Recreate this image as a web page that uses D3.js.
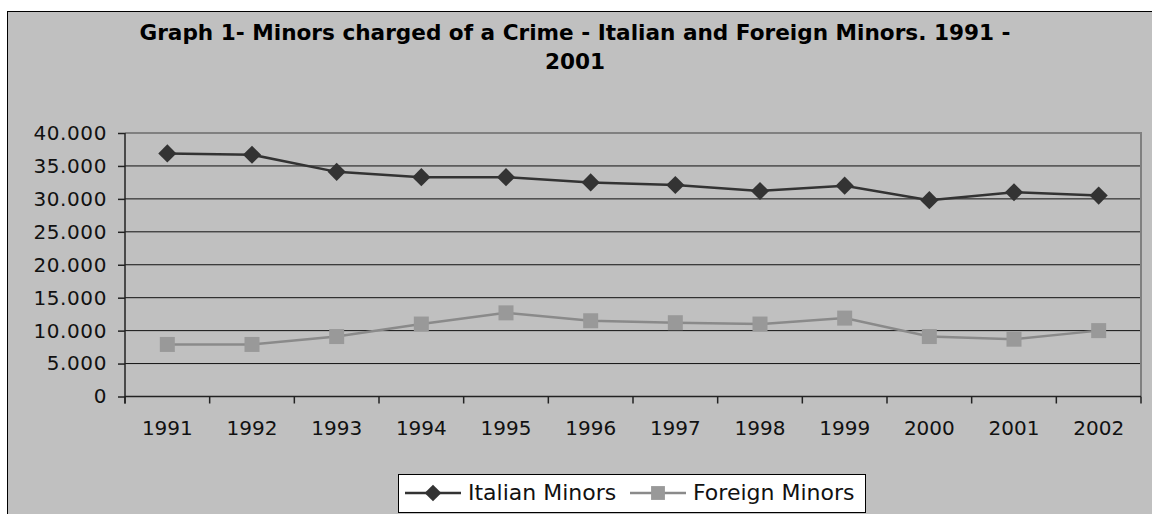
<!DOCTYPE html>
<html>
<head>
<meta charset="utf-8">
<script src="https://cdn.jsdelivr.net/npm/d3@7"></script>
<style>
  body { margin: 0; background: #fff; }
  text { font-family: "DejaVu Sans", Verdana, sans-serif; }
</style>
</head>
<body>
<div id="chart"></div>
<script>
const years = ["1991", "1992", "1993", "1994", "1995", "1996", "1997", "1998", "1999", "2000", "2001", "2002"];
const italianMinors = [36900, 36700, 34100, 33300, 33300, 32500, 32100, 31200, 32000, 29800, 31000, 30500];
const foreignMinors = [7900, 7900, 9100, 11000, 12700, 11500, 11200, 11000, 11900, 9100, 8700, 10000];
const yTicks = [0, 5000, 10000, 15000, 20000, 25000, 30000, 35000, 40000];
const titleLines = ["Graph 1- Minors charged of a Crime - Italian and Foreign Minors. 1991 -", "2001"];

const width = 1152, height = 514;
const plot = { left: 125, right: 1141, top: 133, bottom: 396.5 };

const svg = d3.select("#chart")
  .append("svg")
  .attr("width", width)
  .attr("height", height);

// chart area background and border
svg.append("rect")
  .attr("x", 7.5)
  .attr("y", 11.5)
  .attr("width", width)
  .attr("height", height)
  .style("fill", "#c0c0c0")
  .style("stroke", "#000")
  .style("stroke-width", 1);

// title
svg.append("text")
  .attr("text-anchor", "middle")
  .style("font-size", "21.6px")
  .style("font-weight", "bold")
  .style("fill", "#000")
  .selectAll("tspan")
  .data(titleLines)
  .join("tspan")
  .attr("x", 575)
  .attr("y", (d, i) => 40 + i * 29)
  .text(d => d);

const x = d3.scaleBand()
  .domain(years)
  .range([plot.left, plot.right]);

const y = d3.scaleLinear()
  .domain([0, 40000])
  .range([plot.bottom, plot.top]);

// gridlines
svg.append("g")
  .selectAll("line")
  .data(yTicks.filter(d => d > 0 && d < 40000))
  .join("line")
  .attr("x1", plot.left)
  .attr("x2", plot.right)
  .attr("y1", d => y(d))
  .attr("y2", d => y(d))
  .style("stroke", "#111")
  .style("stroke-width", 1);

// top and right frame
svg.append("path")
  .attr("d", `M${plot.left},${plot.top} H${plot.right} V${plot.bottom}`)
  .style("fill", "none")
  .style("stroke", "#808080")
  .style("stroke-width", 2);

// y axis
const fmt = d => d === 0 ? "0" : d3.format(",")(d).replace(/,/g, ".");
const yAxis = svg.append("g")
  .attr("transform", `translate(${plot.left},0)`)
  .call(d3.axisLeft(y).tickValues(yTicks).tickFormat(fmt).tickSize(7).tickPadding(11));
yAxis.selectAll("text").style("font-size", "20px").style("letter-spacing", "0.6px").style("fill", "#111");
yAxis.selectAll("line, path").style("stroke", "#222").style("stroke-width", 1.5);
yAxis.select("path").attr("d", `M0,${plot.bottom + 7}V${plot.top}`);

// x axis with ticks between categories
const xAxis = svg.append("g")
  .attr("transform", `translate(0,${plot.bottom})`)
  .call(d3.axisBottom(x).tickSize(0).tickPadding(24));
xAxis.selectAll("text").style("font-size", "20px").style("fill", "#111");
xAxis.select("path").attr("d", `M${plot.left},0H${plot.right}`)
  .style("stroke", "#222").style("stroke-width", 1.5);
xAxis.selectAll(".sep")
  .data(years.map(d => x(d)).concat([plot.right]))
  .join("line")
  .attr("class", "sep")
  .attr("x1", d => d)
  .attr("x2", d => d)
  .attr("y1", 0)
  .attr("y2", 7)
  .style("stroke", "#222")
  .style("stroke-width", 1.5);

const cx = d => x(d) + x.bandwidth() / 2;
const line = d3.line().x(d => cx(d[0])).y(d => y(d[1]));

const series = [
  { name: "Italian Minors", values: italianMinors, color: "#333333", marker: d3.symbolSquare, size: 165, rotate: 45, lineColor: "#333333" },
  { name: "Foreign Minors", values: foreignMinors, color: "#999999", marker: d3.symbolSquare, size: 225, rotate: 0, lineColor: "#8a8a8a" }
];

series.forEach(s => {
  const pts = years.map((yr, i) => [yr, s.values[i]]);
  svg.append("path")
    .datum(pts)
    .attr("d", line)
    .style("fill", "none")
    .style("stroke", s.lineColor)
    .style("stroke-width", 2.5);
  svg.append("g")
    .selectAll("path")
    .data(pts)
    .join("path")
    .attr("d", d3.symbol().type(s.marker).size(s.size))
    .attr("transform", d => `translate(${cx(d[0])},${y(d[1])}) rotate(${s.rotate})`)
    .style("fill", s.color);
});

// legend
const legend = svg.append("g");
legend.append("rect")
  .attr("x", 398.5)
  .attr("y", 474.5)
  .attr("width", 467)
  .attr("height", 38)
  .style("fill", "#fff")
  .style("stroke", "#000")
  .style("stroke-width", 1);

const legendX = [405, 630];
series.forEach((s, i) => {
  const lx = legendX[i];
  legend.append("line")
    .attr("x1", lx)
    .attr("x2", lx + 56)
    .attr("y1", 493)
    .attr("y2", 493)
    .style("stroke", s.lineColor)
    .style("stroke-width", 2.5);
  legend.append("path")
    .attr("d", d3.symbol().type(s.marker).size(s.size * 0.85))
    .attr("transform", `translate(${lx + 28},493) rotate(${s.rotate})`)
    .style("fill", s.color);
  legend.append("text")
    .attr("x", lx + 63)
    .attr("y", 500)
    .style("font-size", "22px")
    .style("fill", "#111")
    .text(s.name);
});
</script>
</body>
</html>
